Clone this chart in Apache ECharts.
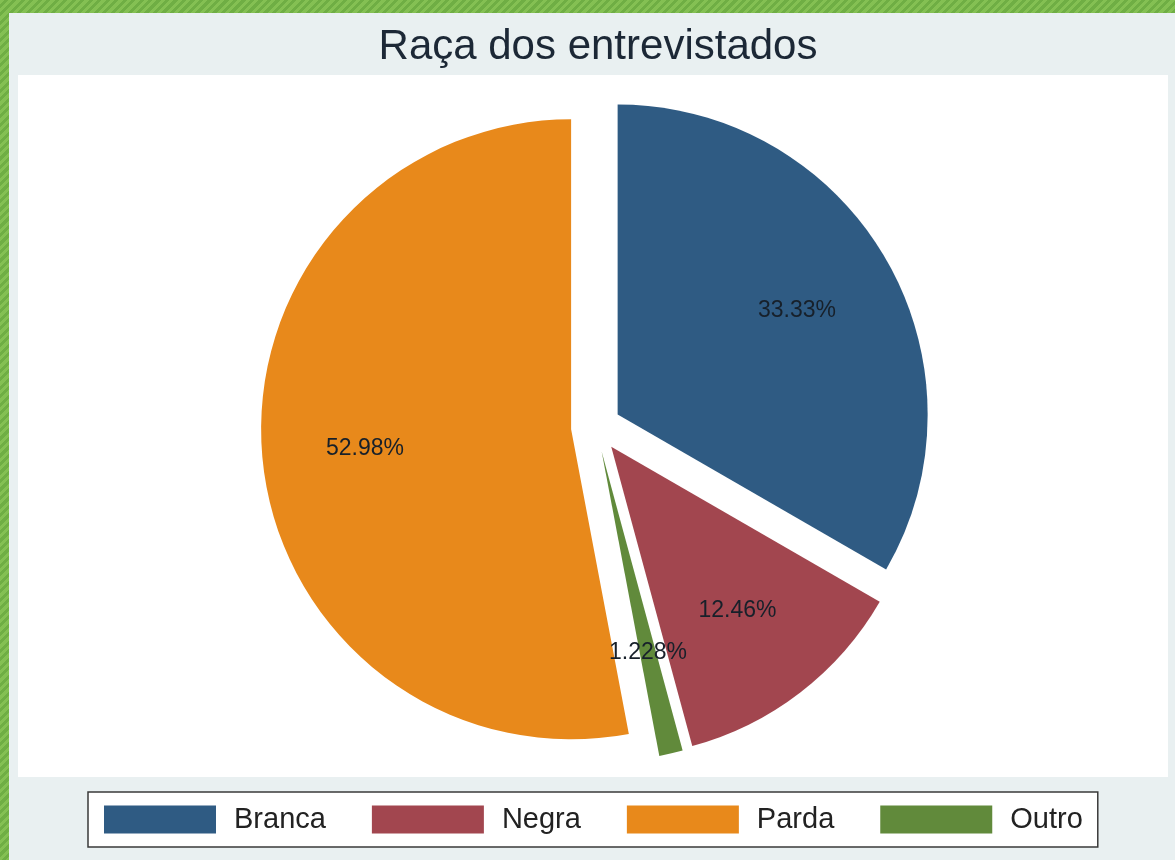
<!DOCTYPE html>
<html>
<head>
<meta charset="utf-8">
<script src="https://cdn.jsdelivr.net/npm/echarts@6/dist/echarts.min.js"></script>
<style>
  html, body { margin: 0; padding: 0; }
  body {
    width: 1175px; height: 860px; overflow: hidden;
    background: repeating-linear-gradient(135deg, #84c053 0px, #84c053 3px, #6fae44 3px, #6fae44 6px);
  }
  #chart { position: absolute; left: 0; top: 0; width: 1175px; height: 860px; }
</style>
</head>
<body>
<div id="chart"></div>
<script>
// ---- data ----
const titleText = 'Raça dos entrevistados';
const categories = ['Branca', 'Negra', 'Outro', 'Parda'];   // clockwise from 12 o'clock
const shares = [33.33, 12.46, 1.228, 52.98];
const labelsText = ['33.33%', '12.46%', '1.228%', '52.98%'];
const legendOrder = ['Branca', 'Negra', 'Parda', 'Outro'];
const colors = { Branca: '#2f5b83', Negra: '#a2464f', Outro: '#618a3b', Parda: '#e8891b' };

const chart = echarts.init(document.getElementById('chart'), null, { renderer: 'canvas' });

const pieData = categories.map((c, i) => ({
  name: c, value: shares[i], selected: true,
  itemStyle: { color: colors[c] }
}));
const labelData = categories.map((c, i) => ({
  name: c, value: shares[i], selected: true,
  label: { formatter: labelsText[i] }
}));

const FONT = "'Liberation Sans', Arial, Helvetica, sans-serif";

chart.setOption({
  backgroundColor: 'transparent',
  animation: false,
  graphic: [
    { type: 'rect', silent: true, z: -10, shape: { x: 9, y: 13, width: 1166, height: 847 }, style: { fill: '#e9f0f1' } },
    { type: 'rect', silent: true, z: -9, shape: { x: 18, y: 75, width: 1150, height: 702 }, style: { fill: '#ffffff' } }
  ],
  title: {
    text: titleText,
    left: 593, top: 21, textAlign: 'center',
    textStyle: { fontFamily: FONT, fontSize: 42, fontWeight: 'normal', color: '#1c2836' }
  },
  legend: {
    data: legendOrder,
    orient: 'horizontal',
    left: 88, top: 792,
    padding: [13, 15, 13, 16],
    borderColor: '#3a3a3a', borderWidth: 1.5,
    backgroundColor: '#ffffff',
    icon: 'rect',
    itemWidth: 112, itemHeight: 28,
    itemGap: 46,
    selectedMode: false,
    textStyle: { fontFamily: FONT, fontSize: 29, color: '#222', padding: [0, 0, 0, 13] }
  },
  series: [
    {
      type: 'pie',
      center: [596, 427],
      radius: [0, 310],
      startAngle: 90,
      clockwise: true,
      selectedMode: 'multiple',
      selectedOffset: 25,
      avoidLabelOverlap: false,
      label: { show: false },
      labelLine: { show: false },
      emphasis: { disabled: true },
      data: pieData
    },
    {
      type: 'pie',
      silent: true,
      center: [596, 427],
      radius: [98, 310],
      startAngle: 90,
      clockwise: true,
      selectedMode: 'multiple',
      selectedOffset: 25,
      avoidLabelOverlap: false,
      itemStyle: { color: 'rgba(0,0,0,0)' },
      label: {
        show: true, position: 'inside', padding: [8, 0, 0, 0],
        fontFamily: FONT, fontSize: 23, color: '#17202a'
      },
      labelLine: { show: false },
      emphasis: { disabled: true },
      data: labelData
    }
  ]
});
</script>
</body>
</html>
